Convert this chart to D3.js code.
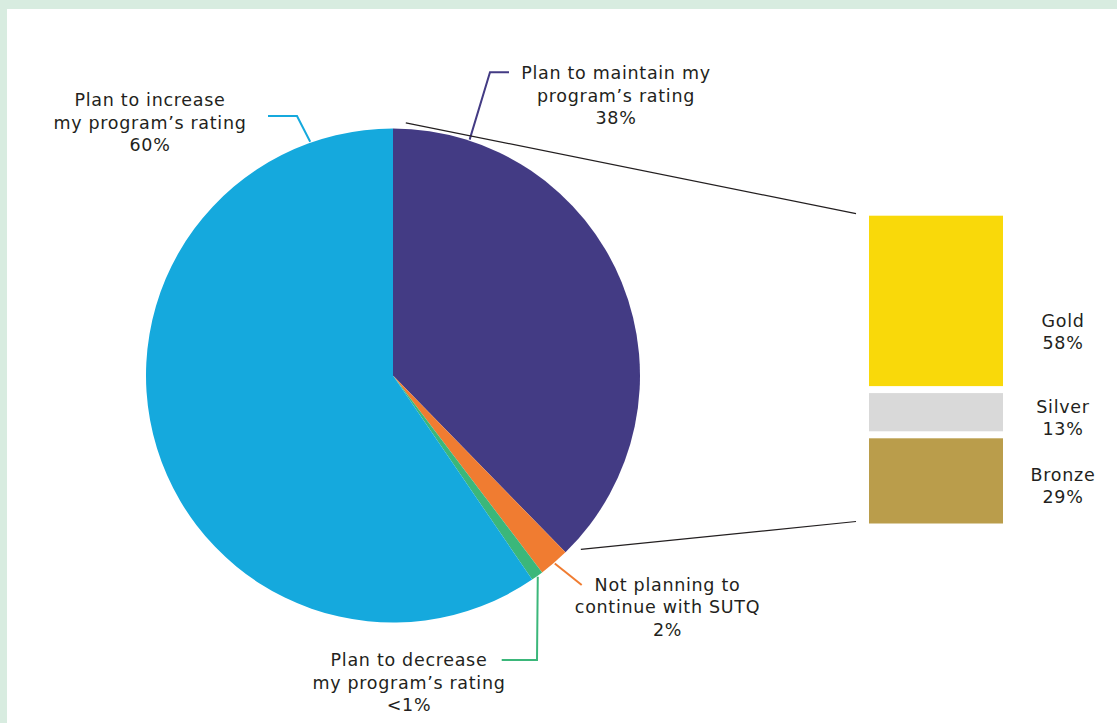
<!DOCTYPE html>
<html>
<head>
<meta charset="utf-8">
<script src="https://cdn.jsdelivr.net/npm/d3@7"></script>
<style>
  html, body { margin: 0; padding: 0; background: #ffffff; }
  svg { display: block; }
  text { font-family: "DejaVu Sans", "Open Sans", sans-serif; fill: #231f20; letter-spacing: 0.7px; }
</style>
</head>
<body>
<svg id="chart" width="1117" height="723"></svg>
<script>
// Plans for the program's rating (pie)
const planLabels = [
  ["Plan to maintain my", "program\u2019s rating", "38%"],
  ["Not planning to", "continue with SUTQ", "2%"],
  ["Plan to decrease", "my program\u2019s rating", "<1%"],
  ["Plan to increase", "my program\u2019s rating", "60%"]
];
const planValues = [38, 2, 0.8, 60];
const planColors = ["#433b84", "#f07c31", "#3bb77a", "#15a9dd"];

// Current rating among those planning to maintain (stacked bar)
const tierNames = ["Gold", "Silver", "Bronze"];
const tierValues = [58, 13, 29];
const tierLabels = ["58%", "13%", "29%"];
const tierColors = ["#f9d90a", "#d9d9d9", "#ba9d4b"];

const svg = d3.select("#chart");
const W = 1117, H = 723;
const fontSize = 17.5;

// page frame
svg.append("rect").attr("width", W).attr("height", H).attr("fill", "#d8ece0");
svg.append("rect").attr("x", 7).attr("y", 9).attr("width", W - 7).attr("height", H - 9).attr("fill", "#ffffff");

// ---- pie ----
const cx = 393, cy = 375.5, R = 247;
const pie = d3.pie().sort(null).value(d => d).startAngle(0).endAngle(2 * Math.PI);
const arcs = pie(planValues);
const arc = d3.arc().innerRadius(0).outerRadius(R);

const g = svg.append("g").attr("transform", `translate(${cx},${cy})`);
g.selectAll("path.slice")
  .data(arcs)
  .join("path")
  .attr("class", "slice")
  .attr("d", arc)
  .attr("fill", (d, i) => planColors[i]);

// point on a circle of radius r at clockwise angle a (degrees from 12 o'clock)
const polar = (a, r) => {
  const t = a * Math.PI / 180;
  return [cx + r * Math.sin(t), cy - r * Math.cos(t)];
};

// leader lines: start angle on the rim, then elbow and end points
const leaders = [
  { a: 18,    pts: [[490, 72.3], [509, 72.3]] },
  { a: null,  pts: [[581.7, 585]] },
  { a: null,  pts: [[537, 660], [501.7, 660]] },
  { a: 340.5, pts: [[297, 116], [268, 116]] }
];
arcs.forEach((d, i) => {
  const mid = leaders[i].a !== null ? leaders[i].a : ((d.startAngle + d.endAngle) / 2) * 180 / Math.PI;
  const start = polar(mid, R + 1);
  svg.append("path")
    .attr("d", d3.line()([start, ...leaders[i].pts]))
    .attr("fill", "none")
    .attr("stroke", planColors[i])
    .attr("stroke-width", 2);
});

// labels
const labelPos = [
  { x: 616, y: 79.3 },
  { x: 667.5, y: 590.7 },
  { x: 409, y: 666 },
  { x: 150, y: 106 }
];
const lineH = 22.5;
planLabels.forEach((lines, i) => {
  const t = svg.append("text")
    .attr("text-anchor", "middle")
    .attr("font-size", fontSize)
    .attr("x", labelPos[i].x)
    .attr("y", labelPos[i].y);
  lines.forEach((s, k) => {
    t.append("tspan").attr("x", labelPos[i].x).attr("y", labelPos[i].y + k * lineH).text(s);
  });
});

// ---- stacked bar ----
const barX = 869, barW = 134, barTop = 215.7, gap = 7;
const totalH = 523.5 - barTop - gap * (tierValues.length - 1);
const y = d3.scaleLinear().domain([0, d3.sum(tierValues)]).range([0, totalH]);
let acc = barTop;
const bars = tierValues.map((v, i) => {
  const b = { y0: acc, h: y(v) };
  acc += y(v) + gap;
  return b;
});
svg.selectAll("rect.tier")
  .data(bars)
  .join("rect")
  .attr("class", "tier")
  .attr("x", barX)
  .attr("width", barW)
  .attr("y", d => d.y0)
  .attr("height", d => d.h)
  .attr("fill", (d, i) => tierColors[i]);

// connector lines from the maintain slice to the bar
svg.append("line")
  .attr("x1", polar(2.9, R + 6)[0]).attr("y1", polar(2.9, R + 6)[1])
  .attr("x2", barX - 13).attr("y2", bars[0].y0 - 2)
  .attr("stroke", "#231f20").attr("stroke-width", 1.2);
const last = bars[bars.length - 1];
svg.append("line")
  .attr("x1", polar(132.8, R + 9)[0]).attr("y1", polar(132.8, R + 9)[1])
  .attr("x2", barX - 13).attr("y2", last.y0 + last.h - 2)
  .attr("stroke", "#231f20").attr("stroke-width", 1.2);

// tier labels
const tierLabelY = [326.7, 412.7, 481];
tierNames.forEach((n, i) => {
  const t = svg.append("text")
    .attr("text-anchor", "middle")
    .attr("font-size", fontSize);
  t.append("tspan").attr("x", 1063).attr("y", tierLabelY[i]).text(n);
  t.append("tspan").attr("x", 1063).attr("y", tierLabelY[i] + 22.3).text(tierLabels[i]);
});
</script>
</body>
</html>
